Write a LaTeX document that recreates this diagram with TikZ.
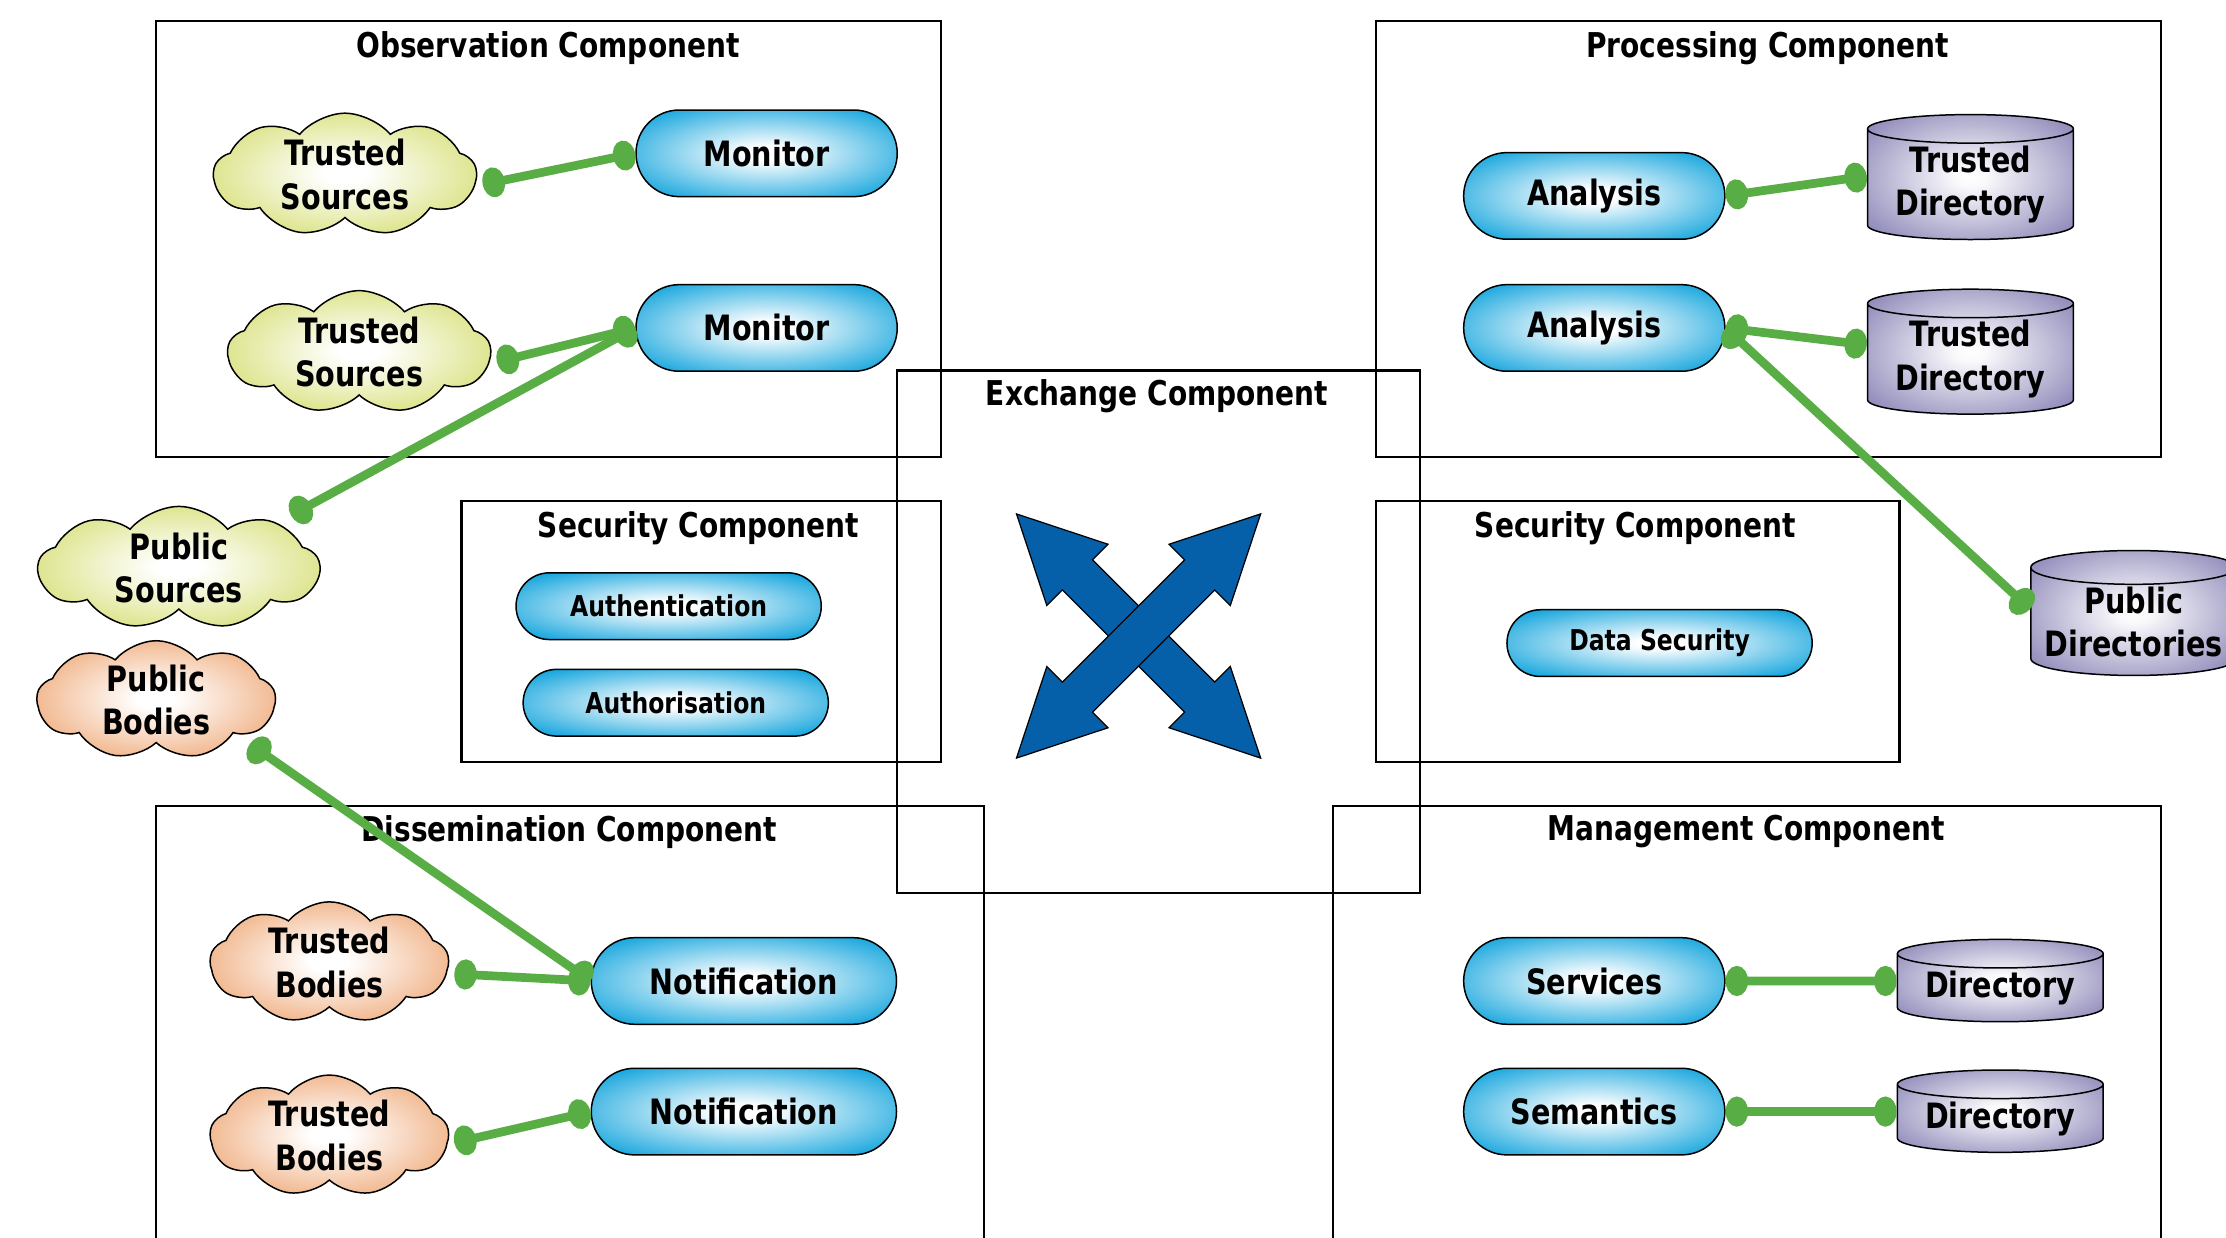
\documentclass[tikz,border=0pt]{standalone}
\usepackage{fontspec}
\setmainfont{DejaVu Sans}[FakeStretch=0.82]
\usetikzlibrary{shapes.misc,shapes.symbols,shapes.geometric,arrows.meta,calc}
\definecolor{pillblue}{HTML}{14A5DD}
\definecolor{cloudgreen}{HTML}{D2DB66}
\definecolor{cloudorange}{HTML}{EDA06A}
\definecolor{cylpurple}{HTML}{8C87B8}
\definecolor{linkgreen}{HTML}{58AE44}
\definecolor{arrowblue}{HTML}{0660A9}
\pgfdeclareradialshading{pillshade}{\pgfpoint{0bp}{0bp}}{color(0bp)=(white); color(4bp)=(white); color(32bp)=(pillblue); color(50bp)=(pillblue)}
\pgfdeclareradialshading{greenshade}{\pgfpoint{0bp}{0bp}}{color(0bp)=(white); color(4bp)=(white); color(33bp)=(cloudgreen); color(50bp)=(cloudgreen)}
\pgfdeclareradialshading{orangeshade}{\pgfpoint{0bp}{0bp}}{color(0bp)=(white); color(4bp)=(white); color(33bp)=(cloudorange); color(50bp)=(cloudorange)}
\pgfdeclareradialshading{purpleshade}{\pgfpoint{0bp}{0bp}}{color(0bp)=(white); color(4bp)=(white!95!cylpurple); color(33bp)=(cylpurple); color(50bp)=(cylpurple)}
\def\pxu{0.02cm}
\tikzset{
 cframe/.style={draw=black, line width=0.9pt},
 ctitle/.style={font=\fontsize{13.7}{16}\selectfont\bfseries, anchor=center, inner sep=0pt},
 lbl/.style={font=\fontsize{14}{17.5}\selectfont\bfseries, align=center, text=black},
 pill/.style={lbl, rounded rectangle, draw=black, line width=0.6pt, inner sep=0pt, shade, shading=pillshade, minimum width=184*\pxu, minimum height=61*\pxu},
 smallpill/.style={pill, font=\fontsize{11.5}{14}\selectfont\bfseries, minimum width=215*\pxu, minimum height=47*\pxu},
 gcloud/.style={lbl, cloud, cloud puffs=9, cloud puff arc=100, cloud ignores aspect, draw=black, line width=0.6pt, inner sep=0pt, shade, shading=greenshade, minimum width=185*\pxu, minimum height=76*\pxu},
 ocloud/.style={gcloud, shading=orangeshade, minimum width=168*\pxu, minimum height=78*\pxu},
 db/.style={lbl, cylinder, shape border rotate=90, aspect=0.19, draw=black, line width=0.6pt, inner sep=0pt, shade, shading=purpleshade, minimum width=145*\pxu, minimum height=88*\pxu},
 glink/.style={draw=linkgreen, line width=3.5pt, {Circle[length=9pt,width=12pt]}-{Circle[length=9pt,width=12pt]}},
 xarrow/.style={fill=arrowblue, draw=black, line width=0.5pt, line join=miter},
}
\begin{document}
\begin{tikzpicture}[x=0.02cm, y=-0.02cm]
\useasboundingbox (0,0) rectangle (1568,872);
% frames
\draw[cframe] (110,15) rectangle (663,322);
\draw[cframe] (969,15) rectangle (1522,322);
\draw[cframe] (325,353) rectangle (663,537);
\draw[cframe] (969,353) rectangle (1338,537);
\draw[cframe] (632,261) rectangle (1000,629);
\draw[cframe] (110,568) rectangle (693,900);
\draw[cframe] (939,568) rectangle (1522,900);
% titles
\node[ctitle] (tobs) at (386,34) {Observation Component};
\node[ctitle] (tproc) at (1245,34) {Processing Component};
\node[ctitle] (tsecl) at (492,372) {Security Component};
\node[ctitle] (tsecr) at (1152,372) {Security Component};
\node[ctitle] (texch) at (815,279) {Exchange Component};
\node[ctitle] (tdiss) at (401,586) {Dissemination Component};
\node[ctitle] (tmgmt) at (1230,586) {Management Component};
% exchange cross arrows
\begin{scope}[shift={(802,448)}, rotate=-45]
\filldraw[xarrow] (-121.6,0) -- (-60.9,30.5) -- (-60.9,15) -- (60.9,15) -- (60.9,30.5) -- (121.6,0) -- (60.9,-30.5) -- (60.9,-15) -- (-60.9,-15) -- (-60.9,-30.5) -- cycle;
\end{scope}
\begin{scope}[shift={(802,448)}, rotate=45]
\filldraw[xarrow] (-121.6,0) -- (-60.9,30.5) -- (-60.9,15) -- (60.9,15) -- (60.9,30.5) -- (121.6,0) -- (60.9,-30.5) -- (60.9,-15) -- (-60.9,-15) -- (-60.9,-30.5) -- cycle;
\end{scope}
% nodes
\node[gcloud] (ts1) at (243,123) {Trusted\\Sources};
\node[pill] (mon1) at (540,108) {Monitor};
\node[gcloud] (ts2) at (253,248) {Trusted\\Sources};
\node[pill] (mon2) at (540,231) {Monitor};
\node[gcloud, minimum width=198*\pxu, minimum height=78*\pxu] (ps) at (126,400) {Public\\Sources};
\node[ocloud] (pb) at (110,493) {Public\\Bodies};
\node[smallpill] (auth) at (471,427) {Authentication};
\node[smallpill] (authz) at (476,495) {Authorisation};
\node[pill] (an1) at (1123,138) {Analysis};
\node[db] (td1) at (1388,130) {Trusted\\Directory};
\node[pill] (an2) at (1123,231) {Analysis};
\node[db] (td2) at (1388,253) {Trusted\\Directory};
\node[smallpill] (dsec) at (1169,453) {Data Security};
\node[db] (pd) at (1503,438) {Public\\Directories};
\node[ocloud] (tb1) at (232,678) {Trusted\\Bodies};
\node[pill, minimum width=215*\pxu] (n1) at (524,691) {Notification};
\node[ocloud] (tb2) at (232,800) {Trusted\\Bodies};
\node[pill, minimum width=215*\pxu] (n2) at (524,783) {Notification};
\node[pill] (srv) at (1123,691) {Services};
\node[db, minimum height=58*\pxu] (dir1) at (1409,696) {Directory};
\node[pill] (sem) at (1123,783) {Semantics};
\node[db, minimum height=58*\pxu] (dir2) at (1409,788) {Directory};
% links
\draw[glink] ($(ts1.center)+(97,7)$) -- (mon1.west);
\draw[glink] ($(ts2.center)+(97,7)$) -- (mon2.west);
\draw[glink] ($(ps.center)+(79,-37)$) -- (mon2.west);
\draw[glink] ($(pb.center)+(66,31)$) -- (n1.west);
\draw[glink] ($(tb1.center)+(88,8)$) -- (n1.west);
\draw[glink] ($(tb2.center)+(88,5)$) -- (n2.west);
\draw[glink] (an1.east) -- ($(td1.west)+(0,-6)$);
\draw[glink] (an2.east) -- ($(td2.west)+(0,-10)$);
\draw[glink] (an2.east) -- ($(pd.west)+(0,-9)$);
\draw[glink] (srv.east) -- ($(dir1.west)+(0,-5)$);
\draw[glink] (sem.east) -- ($(dir2.west)+(0,-5)$);
\end{tikzpicture}
\end{document}
